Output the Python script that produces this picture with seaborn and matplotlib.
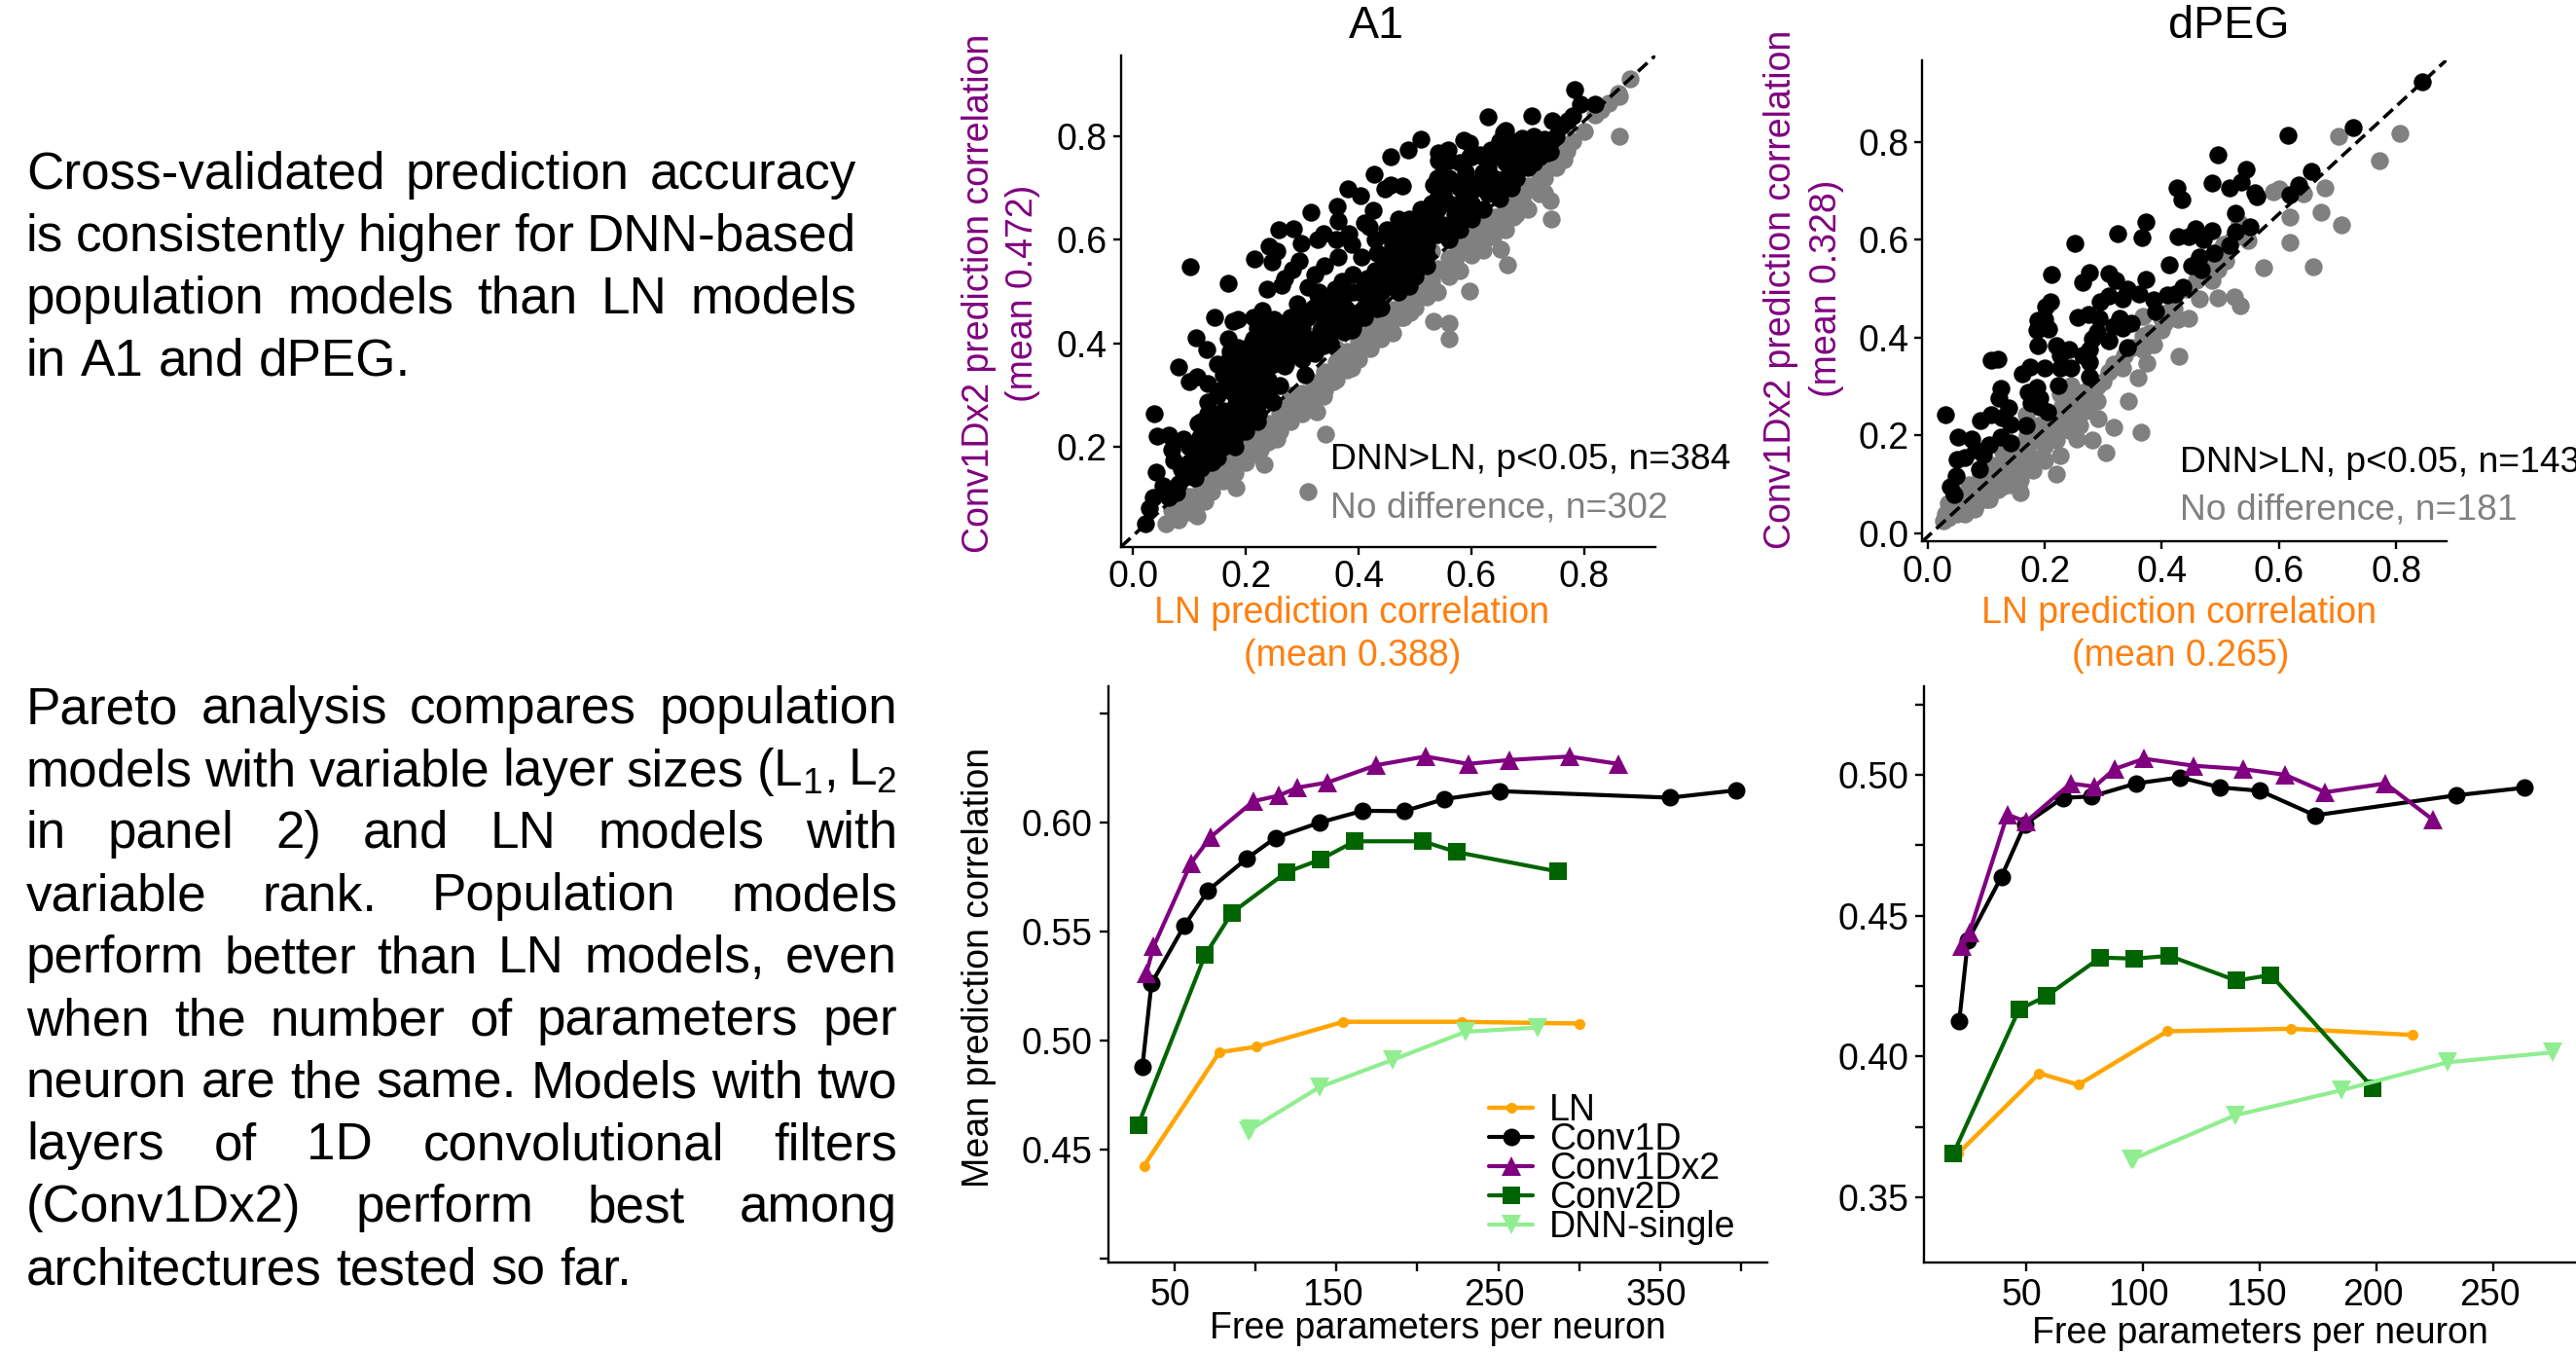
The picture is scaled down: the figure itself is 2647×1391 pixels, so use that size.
import matplotlib
matplotlib.use("Agg")
import matplotlib.pyplot as plt
from matplotlib.transforms import ScaledTranslation
import seaborn as sns

W, H = 2647, 1391
DPI = 200

# scatter values (LN r, Conv1Dx2 r)
a1_sig = [(.783,.891),(.629,.838),(.707,.84),(.743,.831),(.794,.863),(.819,.862),(.771,.831),(.657,.807),(.661,.811),
    (.689,.797),(.711,.80),(.73,.794),(.586,.792),(.597,.786),(.511,.794),(.456,.761),(.488,.774),(.542,.769),(.559,.774),
    (.541,.753),(.561,.753),(.428,.726),(.634,.774),(.652,.778),(.615,.765),(.597,.761),(.675,.765),(.698,.757),(.734,.769),
    (.547,.724),(.533,.706),(.477,.705),(.456,.707),(.447,.699),(.381,.699),(.403,.685),(.316,.654),(.362,.664),(.364,.637),
    (.426,.658),(.41,.633),(.419,.625),(.258,.619),(.284,.621),(.216,.564),(.241,.588),(.255,.579),(.247,.557),(.298,.594),
    (.294,.559),(.282,.542),(.268,.526),(.264,.513),(.237,.505),(.328,.6),(.337,.612),(.36,.6),(.383,.612),(.364,.567),
    (.339,.55),(.323,.534),(.31,.509),(.328,.493),(.387,.592),(.405,.567),(.389,.534),(.415,.526),(.358,.505),(.374,.493),
    (.451,.608),(.469,.6),(.433,.575),(.469,.559),(.451,.534),(.442,.501),(.102,.549),(.169,.516),(.144,.451),(.177,.443),
    (.186,.447),(.214,.451),(.229,.464),(.25,.447),(.273,.439),(.287,.431),(.291,.476),(.3,.46),(.351,.476),(.328,.464),
    (.378,.468),(.405,.464),(.433,.468),(.332,.426),(.374,.422),(.387,.426),(.111,.412),(.168,.41),(.13,.389),(.173,.385),
    (.186,.393),(.214,.41),(.241,.418),(.268,.402),(.232,.393),(.291,.381),(.323,.381),(.337,.397),(.081,.354),(.1,.327),
    (.113,.336),(.132,.323),(.163,.344),(.195,.352),(.214,.36),(.241,.356),(.268,.356),(.305,.34),(.261,.319),(.232,.336),
    (.159,.311),(.186,.319),(.214,.311),(.038,.265),(.043,.222),(.063,.224),(.068,.195),(.089,.216),(.116,.245),(.132,.288),
    (.132,.265),(.154,.265),(.195,.29),(.223,.265),(.248,.288),(.177,.249),(.205,.245),(.141,.228),(.118,.22),(.168,.216),
    (.141,.203),(.109,.199),(.041,.151),(.086,.158),(.072,.174),(.127,.178),(.141,.172),(.054,.125),(.063,.104),(.077,.112),
    (.036,.104),(.029,.082),(.022,.053),
    (.45,.56),(.47,.58),(.49,.6),(.51,.62),(.43,.54),(.46,.53),(.48,.55),(.5,.57),(.52,.59),(.54,.61),(.5,.53),(.52,.55),
    (.49,.51),(.47,.5),(.55,.63),(.57,.65),(.53,.64),(.51,.66),(.49,.64),(.47,.62),(.56,.6),(.58,.62),(.6,.64),(.62,.66),
    (.59,.68),(.61,.7),(.63,.69),(.65,.71),(.57,.71),(.55,.69),(.53,.67),(.54,.72),(.59,.73),(.63,.74),(.66,.75),(.68,.77),
    (.7,.78),(.72,.77),(.74,.79),(.67,.72),(.69,.74),(.71,.75),(.65,.68),(.67,.7),(.64,.72),(.62,.73),(.6,.76),(.58,.75),
    (.75,.8),(.76,.82),(.78,.84),(.4,.5),(.42,.48),(.38,.46),(.36,.44),(.39,.43),(.41,.45),(.44,.47),(.35,.48),(.37,.52),
    (.33,.47),(.31,.45),(.29,.44),(.17,.33),(.19,.35),(.21,.37),(.23,.39),(.25,.41),(.27,.43),(.2,.33),(.22,.35),(.24,.37),
    (.26,.39),(.28,.38),(.18,.3),(.2,.29),(.22,.31),(.24,.33),(.16,.27),(.18,.26),(.2,.26),(.22,.28),(.24,.3),(.14,.25),
    (.16,.23),(.18,.22),(.2,.23),(.22,.25),(.12,.2),(.14,.19),(.16,.2),(.18,.2),(.1,.17),(.12,.16),(.14,.17),(.09,.14),
    (.11,.14),(.07,.12),(.08,.13),(.15,.3),(.12,.25),(.27,.36),(.3,.37),(.31,.39),
    (.15,.36),(.17,.37),(.19,.38),(.16,.34),(.18,.35),(.2,.36),(.22,.38),(.21,.4),(.23,.42),(.25,.43),(.27,.42),(.29,.41),
    (.31,.41),(.33,.41),(.35,.4),(.17,.31),(.19,.32),(.21,.33),(.23,.35),(.25,.36),(.19,.27),(.21,.29),(.23,.31),(.2,.31),
    (.22,.33),(.18,.28),(.16,.25),(.17,.24),(.19,.24),(.21,.27),(.13,.22),(.15,.21),(.17,.22),(.14,.24),(.12,.19),(.15,.18),
    (.11,.18),(.13,.17),(.1,.2),(.26,.44),(.24,.44),(.22,.43),(.28,.45),(.3,.43),(.34,.44),(.35,.42),(.37,.43),(.39,.45),
    (.41,.47),(.26,.4),(.28,.41),(.25,.38),(.27,.4),
    (.43,.6),(.45,.62),(.47,.64),(.44,.57),(.46,.59),(.48,.61),(.5,.63),(.42,.52),(.44,.52),(.46,.55),(.48,.57),(.5,.59),
    (.44,.5),(.46,.51),(.48,.53),(.5,.55),(.52,.57),(.33,.5),(.35,.46),(.37,.48),(.39,.5),(.41,.52),(.36,.47),(.38,.44),
    (.4,.46),(.42,.5),(.34,.45),(.32,.47),(.43,.49),(.52,.65),(.54,.66),(.56,.67),(.58,.67),(.6,.67),(.53,.61),(.55,.62),
    (.57,.63),(.59,.64),(.61,.66),(.54,.68),(.56,.72),(.58,.7),(.6,.71),(.62,.71),(.64,.7),(.66,.72),(.68,.74),(.7,.76),
    (.66,.77),(.64,.76),(.62,.76),(.68,.72),(.7,.74),(.72,.76),(.72,.79),(.74,.77),(.69,.79),(.67,.79),(.65,.79)]
a1_ns = [(.882,.911),(.86,.883),(.862,.877),(.844,.864),(.819,.841),(.863,.801),(.769,.772),(.763,.755),(.739,.74),(.721,.716),
    (.73,.691),(.739,.676),(.742,.641),(.707,.699),(.693,.666),(.675,.645),(.647,.645),(.666,.67),(.615,.629),(.629,.604),
    (.652,.582),(.663,.552),(.597,.502),(.606,.608),(.574,.571),(.556,.546),(.529,.579),(.52,.542),(.561,.439),(.561,.41),
    (.532,.443),(.52,.501),(.506,.488),(.492,.46),(.474,.451),(.456,.439),(.437,.418),(.428,.426),(.405,.41),(.401,.385),
    (.387,.352),(.378,.373),(.355,.327),(.337,.298),(.325,.269),(.3,.282),(.341,.225),(.278,.257),(.255,.216),(.232,.166),
    (.225,.195),(.182,.121),(.31,.114),(.186,.166),(.168,.15),(.127,.096),(.113,.067),(.086,.071),(.058,.053),(.068,.079),
    (.1,.096),(.141,.129),(.195,.195),
    (.07,.065),(.09,.08),(.11,.1),(.13,.12),(.15,.14),(.17,.16),(.19,.18),(.21,.2),(.23,.22),(.25,.24),(.27,.26),(.29,.28),
    (.31,.3),(.33,.32),(.35,.34),(.37,.36),(.39,.38),(.41,.4),(.43,.42),(.45,.44),(.47,.46),(.49,.48),(.51,.5),(.53,.52),
    (.55,.54),(.57,.56),(.59,.58),(.61,.6),(.63,.62),(.65,.64),(.67,.66),(.69,.68),(.71,.7),(.73,.72),(.75,.74),
    (.1,.075),(.14,.115),(.18,.15),(.22,.185),(.26,.23),(.3,.265),(.34,.31),(.38,.35),(.42,.39),(.46,.42),(.5,.47),(.54,.5),
    (.58,.54),(.62,.58),(.66,.62),(.7,.66),(.12,.13),(.2,.22),(.28,.3),(.36,.39),(.44,.47),(.56,.6),(.6,.66),(.66,.69),
    (.08,.06),(.12,.1),(.16,.135),(.2,.17),(.24,.21),(.28,.25),(.32,.29),(.36,.33),(.4,.37),(.44,.41),(.48,.45),(.52,.49),
    (.56,.53),(.6,.57),(.64,.61),(.68,.65),(.72,.69),(.08,.085),(.1,.105),(.12,.125),(.14,.145),(.16,.165),(.18,.185),
    (.2,.205),(.22,.225),(.24,.245),(.26,.265),(.28,.285),(.3,.305),(.32,.325),(.34,.345),(.36,.365),(.38,.385),(.4,.405),
    (.42,.425),(.44,.445),(.46,.465),(.48,.485),(.5,.505),(.52,.525),(.54,.545),(.56,.565),(.58,.585),(.6,.605),(.62,.625),
    (.64,.645),(.66,.665),(.68,.685),(.7,.705),(.72,.725),(.74,.745),(.76,.765),(.78,.79),(.8,.81),(.83,.85),(.76,.78)]
peg_sig = [(.845,.922),(.727,.83),(.615,.813),(.495,.773),(.544,.743),(.655,.74),(.634,.712),(.618,.691),(.486,.715),(.516,.706),
    (.536,.718),(.425,.706),(.434,.681),(.559,.696),(.562,.687),(.525,.654),(.373,.637),(.366,.604),(.325,.613),(.252,.593),
    (.427,.606),(.457,.623),(.445,.606),(.485,.619),(.47,.601),(.525,.617),(.55,.626),(.515,.588),(.489,.573),(.464,.565),
    (.412,.549),(.45,.547),(.468,.538),(.212,.528),(.277,.532),(.264,.512),(.309,.53),(.321,.516),(.373,.519),(.341,.499),
    (.361,.49),(.386,.477),(.389,.453),(.409,.488),(.423,.49),(.436,.502),(.295,.473),(.309,.486),(.332,.48),(.209,.474),
    (.202,.464),(.256,.442),(.274,.448),(.293,.44),(.188,.435),(.2,.438),(.186,.416),(.207,.417),(.327,.44),(.318,.423),
    (.332,.42),(.347,.429),(.289,.411),(.282,.398),(.309,.394),(.188,.384),(.22,.384),(.341,.379),(.241,.376),(.109,.353),
    (.12,.356),(.277,.376),(.277,.35),(.227,.363),(.264,.363),(.227,.337),(.245,.337),(.2,.337),(.175,.339),(.162,.326),
    (.277,.321),(.223,.302),(.125,.296),(.122,.277),(.171,.289),(.186,.298),(.191,.276),(.177,.267),(.205,.249),(.191,.258),
    (.138,.256),(.031,.243),(.091,.23),(.109,.242),(.127,.236),(.141,.223),(.168,.221),(.052,.197),(.075,.193),(.105,.181),
    (.125,.197),(.141,.184),(.082,.171),(.095,.162),(.05,.151),(.064,.155),(.089,.131),(.048,.118),(.038,.096),(.045,.079)]
peg_ns = [(.702,.811),(.807,.818),(.771,.761),(.591,.698),(.6,.703),(.641,.694),(.678,.706),(.671,.656),(.706,.63),(.618,.647),
    (.618,.594),(.659,.544),(.574,.543),(.547,.598),(.505,.591),(.532,.635),(.509,.556),(.495,.538),(.459,.516),(.486,.516),
    (.464,.48),(.495,.481),(.523,.484),(.534,.466),(.445,.439),(.427,.438),(.405,.429),(.368,.444),(.429,.361),(.4,.416),
    (.386,.385),(.368,.376),(.375,.347),(.359,.318),(.343,.271),(.365,.206),(.309,.394),(.318,.346),(.332,.337),(.3,.311),
    (.282,.293),(.264,.28),(.273,.254),(.291,.235),(.317,.216),(.305,.165),(.282,.19),(.255,.193),(.241,.21),(.218,.223),
    (.227,.16),(.22,.121),(.2,.179),(.182,.153),(.227,.284),(.245,.302),(.168,.242),(.159,.109),(.159,.083),(.15,.127),
    (.127,.136),(.127,.096),(.105,.07),(.082,.057),(.064,.039),(.036,.031),(.027,.026),(.036,.061),(.055,.074),(.073,.092),
    (.091,.109),(.109,.127),(.127,.171),(.145,.153),(.164,.179),(.182,.206),(.209,.223),(.205,.197),(.236,.249),(.264,.25),
    (.368,.403),(.336,.363),(.409,.451),
    (.03,.04),(.04,.05),(.05,.04),(.06,.06),(.07,.05),(.08,.08),(.09,.07),(.1,.1),(.11,.09),(.12,.12),(.13,.11),(.14,.13),
    (.15,.11),(.16,.14),(.05,.08),(.07,.1),(.09,.12),(.11,.14),(.13,.16),(.15,.18),(.17,.2),(.08,.05),(.1,.07),(.12,.09),
    (.14,.1),(.155,.1),(.15,.15),(.17,.17),(.19,.19),(.21,.2),(.23,.22),(.25,.24),(.19,.22),(.21,.24),(.23,.26),(.25,.27),
    (.27,.29),(.29,.3),(.31,.33),(.33,.35),(.35,.38),(.37,.38),(.38,.41),(.4,.44),(.42,.46),(.44,.5),(.46,.52),(.48,.55),
    (.5,.58),(.52,.6),(.27,.25),(.29,.27),(.16,.16),(.18,.13),(.2,.15),(.22,.19),(.24,.22),(.26,.22)]

# pareto curves, A1
a1_ln_x = [31.2,77.7,100.8,154.2,227.3,300.2]
a1_ln_y = [.4428,.4948,.4974,.5088,.5088,.508]
a1_c1_x = [30.2,35.8,55.9,70.8,94.5,112.3,139.7,166.3,191.7,216.8,251,355.9,397]
a1_c1_y = [.4883,.5264,.5527,.5691,.5836,.5932,.6002,.6056,.6054,.611,.6146,.6116,.615]
a1_c1x2_x = [32.5,37.1,60.2,72.4,98.8,114.6,125.8,144.6,174.6,204.9,231.3,257,293.9,323.9]
a1_c1x2_y = [.5308,.5433,.5816,.5936,.61,.6126,.6162,.6186,.6265,.6305,.6271,.6289,.6305,.6271]
a1_c2_x = [27.6,68.8,85.6,118.9,140,161.4,203.3,224.4,287]
a1_c2_y = [.4615,.5393,.5589,.5773,.5832,.5916,.5916,.5866,.5777]
a1_dnn_x = [96,97,139.7,184.5,229.6,274.5]
a1_dnn_y = [.4585,.4595,.4789,.4913,.5042,.5062]

# pareto curves, dPEG
peg_ln_x = [21,55.7,72.4,110.4,163.1,215.3]
peg_ln_y = [.3655,.394,.3899,.4089,.4098,.4076]
peg_c1_x = [21.5,25.2,39.5,49.6,65.8,78.1,97,115.9,133,150.1,173.6,234,263.2]
peg_c1_y = [.4126,.4411,.4637,.4825,.4918,.4923,.4969,.4991,.4955,.4943,.4856,.4927,.4954]
peg_c1x2_x = [22.8,25.8,42.1,50,69.1,79.4,87.8,100.5,121.8,142.9,160.7,178,203.7,223.9]
peg_c1x2_y = [.439,.4439,.4859,.4833,.4969,.4958,.502,.5057,.5032,.502,.50,.4938,.4969,.4841]
peg_c2_x = [19,47.1,58.8,81.8,96.3,111.3,140,154.7,198.4]
peg_c2_y = [.3655,.4167,.4214,.4351,.4347,.4357,.4269,.4289,.3888]
peg_dnn_x = [95.2,95.9,139.6,185,230.3,275.1]
peg_dnn_y = [.3633,.3636,.3791,.388,.3979,.4014]

top_text = ["Cross-validated prediction accuracy", "is consistently higher for DNN-based",
            "population models than LN models", "in A1 and dPEG."]
bottom_text = ["Pareto analysis compares population", "models with variable layer sizes (L$_1$, L$_2$",
               "in panel 2) and LN models with", "variable rank. Population models",
               "perform better than LN models, even", "when the number of parameters per",
               "neuron are the same. Models with two", "layers of 1D convolutional filters",
               "(Conv1Dx2) perform best among", "architectures tested so far."]

sns.set_style("ticks", {"text.color": "black", "axes.edgecolor": "black", "axes.labelcolor": "black",
                        "xtick.color": "black", "ytick.color": "black"})
plt.rcParams["font.family"] = ["Liberation Sans", "DejaVu Sans"]
plt.rcParams["mathtext.default"] = "regular"
plt.rcParams["axes.linewidth"] = 0.85

PURPLE = "purple"
ORANGE = "#ff7f0e"
styles = {
    "LN": dict(color="orange", marker="o", markersize=4, linewidth=1.6),
    "Conv1D": dict(color="black", marker="o", markersize=6.5, linewidth=1.5),
    "Conv1Dx2": dict(color="purple", marker="^", markersize=7.2, linewidth=1.5),
    "Conv2D": dict(color="darkgreen", marker="s", markersize=6.8, linewidth=1.5),
    "DNN-single": dict(color="lightgreen", marker="v", markersize=7.5, linewidth=1.5),
}

fig = plt.figure(figsize=(W / DPI, H / DPI), dpi=DPI)


def add_ax(left, right, top, bottom):
    return fig.add_axes([left / W, 1 - bottom / H, (right - left) / W, (bottom - top) / H])


def px_text(x, y, s, **kw):
    kw.setdefault("ha", "center")
    kw.setdefault("va", "center")
    return fig.text(x / W, 1 - y / H, s, **kw)


def justified(lines, left, right, first_y, pitch, size=19.1):
    # word by word, since matplotlib has no justified text
    rend = fig.canvas.get_renderer()
    for i, line in enumerate(lines):
        y = first_y + i * pitch
        words = line.split(" ")
        objs = [px_text(left, y, w, ha="left", va="baseline", fontsize=size) for w in words]
        widths = [o.get_window_extent(rend).width for o in objs]
        if i == len(lines) - 1:
            gap = size * DPI / 72 * 0.278
        else:
            gap = (right - left - sum(widths)) / (len(words) - 1)
        x = left
        for o, w in zip(objs, widths):
            o.set_x(x / W)
            x += w + gap


def scatter_panel(ax, sig, ns, xlim, ylim, yticks):
    sns.scatterplot(x=[p[0] for p in ns], y=[p[1] for p in ns], ax=ax, color="gray", s=44, linewidth=0, zorder=2)
    sns.scatterplot(x=[p[0] for p in sig], y=[p[1] for p in sig], ax=ax, color="black", s=44, linewidth=0, zorder=3)
    ax.plot(xlim, ylim, color="black", ls=(0, (3.6, 1.8)), lw=1.3, zorder=4)
    ax.set_xlim(xlim)
    ax.set_ylim(ylim)
    ax.set_xticks([0, .2, .4, .6, .8])
    ax.set_yticks(yticks)
    ax.tick_params(labelsize=13.5, length=3, width=0.85, pad=2)
    sns.despine(ax=ax)


def pareto_panel(ax, curves, xlim, ylim):
    for name, xs, ys in curves:
        sns.lineplot(x=xs, y=ys, ax=ax, sort=False, estimator=None, errorbar=None, label=name,
                     markeredgewidth=0, clip_on=False, **styles[name])
    ax.set_xlim(xlim)
    ax.set_ylim(ylim)
    ax.tick_params(labelsize=13.5, length=3.2, width=0.85, pad=2.5)
    sns.despine(ax=ax)


ax1 = add_ax(1152, 1701, 57, 561.6)
scatter_panel(ax1, a1_sig, a1_ns, (-.021, .926), (.008, .956), [.2, .4, .6, .8])
ax2 = add_ax(1975.3, 2514, 61.6, 556.3)
scatter_panel(ax2, peg_sig, peg_ns, (-.009, .886), (-.0165, .967), [0, .2, .4, .6, .8])

ax3 = add_ax(1138.8, 1815.7, 704.8, 1297)
pareto_panel(ax3, [("LN", a1_ln_x, a1_ln_y), ("Conv1D", a1_c1_x, a1_c1_y), ("Conv1Dx2", a1_c1x2_x, a1_c1x2_y),
                   ("Conv2D", a1_c2_x, a1_c2_y), ("DNN-single", a1_dnn_x, a1_dnn_y)], (9.1, 415.9), (.3984, .6628))
ax3.set_xticks([50, 100, 150, 200, 250, 300, 350, 400])
ax3.set_xticklabels(["50", "", "150", "", "250", "", "350", ""])
ax3.set_yticks([.40, .45, .50, .55, .60, .65])
ax3.set_yticklabels(["", "0.45", "0.50", "0.55", "0.60", ""])
ax3.legend(loc="lower left", bbox_to_anchor=(0.578, 0.03), frameon=False, fontsize=13.5, labelspacing=-0.16,
           handlelength=1.2, handletextpad=0.45, borderpad=0, borderaxespad=0)

ax4 = add_ax(1977.2, 2647, 704.8, 1297)
pareto_panel(ax4, [("LN", peg_ln_x, peg_ln_y), ("Conv1D", peg_c1_x, peg_c1_y), ("Conv1Dx2", peg_c1x2_x, peg_c1x2_y),
                   ("Conv2D", peg_c2_x, peg_c2_y), ("DNN-single", peg_dnn_x, peg_dnn_y)], (6.5, 285.2), (.3268, .5315))
ax4.get_legend().remove()
ax4.set_xticks([50, 100, 150, 200, 250])
ax4.set_yticks([.35, .375, .40, .425, .45, .475, .50, .525])
ax4.set_yticklabels(["0.35", "", "0.40", "", "0.45", "", "0.50", ""])

# x labels sit a little left of their ticks in the reference
for ax in (ax3, ax4):
    for lab in ax.get_xticklabels():
        lab.set_transform(lab.get_transform() + ScaledTranslation(-4 / DPI, 0, fig.dpi_scale_trans))

px_text(1414, 27, "A1", fontsize=16.8)
px_text(2290, 27, "dPEG", fontsize=16.8)
px_text(1006, 301.5, "Conv1Dx2 prediction correlation", rotation=90, color=PURPLE, fontsize=13.5)
px_text(1051, 301.5, "(mean 0.472)", rotation=90, color=PURPLE, fontsize=13.5)
px_text(1389, 630, "LN prediction correlation", color=ORANGE, fontsize=13.5)
px_text(1390, 674, "(mean 0.388)", color=ORANGE, fontsize=13.5)
px_text(1830, 297, "Conv1Dx2 prediction correlation", rotation=90, color=PURPLE, fontsize=13.5)
px_text(1877, 296, "(mean 0.328)", rotation=90, color=PURPLE, fontsize=13.5)
px_text(2239, 630, "LN prediction correlation", color=ORANGE, fontsize=13.5)
px_text(2241, 674, "(mean 0.265)", color=ORANGE, fontsize=13.5)
px_text(1367, 473, "DNN>LN, p<0.05, n=384", ha="left", fontsize=13.4)
px_text(1367, 522, "No difference, n=302", ha="left", color="gray", fontsize=13.4)
px_text(2240, 475, "DNN>LN, p<0.05, n=143", ha="left", fontsize=13.4)
px_text(2240, 524, "No difference, n=181", ha="left", color="gray", fontsize=13.4)
px_text(1477, 1365, "Free parameters per neuron", fontsize=13.5)
px_text(1006, 994, "Mean prediction correlation", rotation=90, fontsize=13.5)
px_text(2322, 1370, "Free parameters per neuron", fontsize=13.5)

justified(top_text, 27, 880, 194, 64)
justified(bottom_text, 27, 922, 743, 64)

fig.savefig("out.png", dpi=DPI)
